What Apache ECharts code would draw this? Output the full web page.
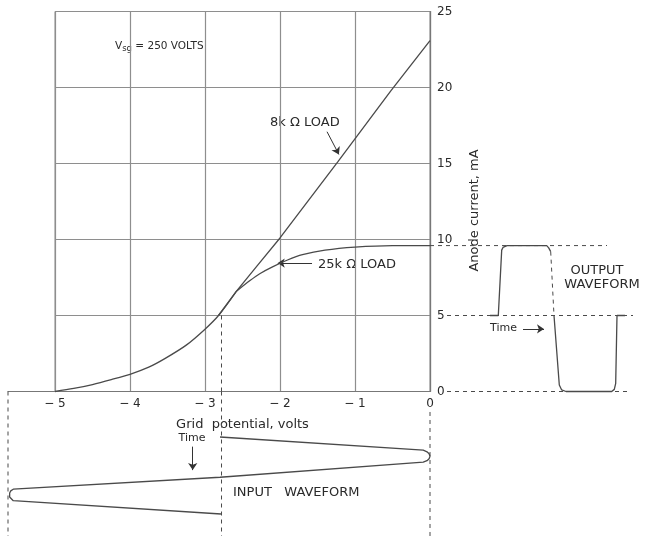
<!DOCTYPE html>
<html><head><meta charset="utf-8">
<script src="https://cdn.jsdelivr.net/npm/echarts@6/dist/echarts.min.js"></script>
<style>html,body{margin:0;padding:0;background:#fff}#c{width:645px;height:536px}</style>
</head><body><div id="c"></div>
<script>
// ---- axes / ticks ----
const voltTicks = [-5, -4, -3, -2, -1, 0];
const voltTickLabels = ['\u2212 5', '\u2212 4', '\u2212 3', '\u2212 2', '\u2212 1', '0'];
const currentTicks = [0, 5, 10, 15, 20, 25];
const currentTickLabels = ['0', '5', '10', '15', '20', '25'];

// ---- transfer characteristic (grid volts, anode mA) ----
const commonCurveV = [-5, -4.75, -4.5, -4.25, -4, -3.75, -3.53, -3.25, -3, -2.82, -2.58];
const commonCurveI = [0, 0.2, 0.46, 0.78, 1.13, 1.6, 2.18, 3.05, 4.1, 5.0, 6.6];
const load8kV = [-2.82, -2.58, -2.3, -2.0, -1.23, -0.52, 0];
const load8kI = [5.0, 6.6, 8.3, 10.1, 15.1, 19.8, 23.08];
const load25kV = [-2.58, -2.4, -2.27, -2.1, -1.9, -1.7, -1.4, -1, -0.5, 0];
const load25kI = [6.6, 7.3, 7.75, 8.2, 8.65, 9.0, 9.3, 9.5, 9.6, 9.6];

// operating point
const biasV = -2.78;
const biasI = 5;

// ---- input waveform (grid volts vs time, quarter-periods) ----
const inputWaveV = [-2.8, -0.09, -0.04, -0.012, 0, -0.012, -0.04, -0.09, -2.8, -5.557, -5.59, -5.605, -5.615, -5.605, -5.59, -5.557, -2.787];
const inputWaveT = [0, 0.68, 0.77, 0.87, 1.0, 1.13, 1.23, 1.31, 2.09, 2.71, 2.80, 2.91, 3.01, 3.12, 3.22, 3.31, 4.0];
const inputLeftV = -5.627;
const inputTimeMin = -2.364, inputTimeMax = 5.143;

// ---- output waveform (time units vs anode mA) ----
const outA_T = [6.0, 6.83, 7.17, 7.3, 7.5, 7.7, 11.67, 11.87, 12.07];
const outA_I = [5, 5, 9.3, 9.48, 9.57, 9.6, 9.6, 9.45, 9.2];
const outB_T = [12.07, 12.4];
const outB_I = [9.2, 5];
const outC_T = [12.4, 12.93, 13.17, 13.6, 18.17, 18.43, 18.57, 18.7, 19.5];
const outC_I = [5, 0.43, 0.1, 0, 0, 0.14, 0.54, 5, 5];
const outLevels = [9.6, 5, 0];
const outLevelStart = [0, 1.7, 1.7];
const outLevelEnd = [17.7, 20.3, 19.7];

const zip = (a, b) => a.map((v, i) => [v, b[i]]);

const LINE = '#4a4a4a';
const GRIDC = '#8e8e8e';
const TXT = '#2a2a2a';
const FONT = '"DejaVu Sans", sans-serif';

const chart = echarts.init(document.getElementById('c'), null, {renderer: 'canvas'});

function dashed(xi, data) {
  return {type: 'line', xAxisIndex: xi, yAxisIndex: xi, data: data, symbol: 'none', clip: false, silent: true,
    lineStyle: {color: LINE, width: 1, type: [4, 4]}};
}
function solid(xi, data, smooth) {
  return {type: 'line', xAxisIndex: xi, yAxisIndex: xi, data: data, symbol: 'none', clip: false, silent: true,
    smooth: smooth || false, lineStyle: {color: LINE, width: 1.3}};
}
function arrow(xi, from, to) {
  return {type: 'lines', coordinateSystem: 'cartesian2d', xAxisIndex: xi, yAxisIndex: xi, silent: true,
    symbol: ['none', 'arrow'], symbolSize: 7, lineStyle: {color: '#333', width: 1, opacity: 1, curveness: 0},
    data: [{coords: [from, to]}]};
}

const series = [
  solid(0, zip(commonCurveV, commonCurveI), 0.3),
  solid(0, zip(load8kV, load8kI), false),
  solid(0, zip(load25kV, load25kI), 0.3),
  dashed(0, [[biasV, biasI], [biasV, 0]]),
  arrow(0, [-1.373, 17.09], [-1.215, 15.6]),
  arrow(0, [-1.573, 8.45], [-2.03, 8.45]),
  // input waveform grid
  solid(1, zip(inputWaveV, inputWaveT), false),
  dashed(1, [[biasV, inputTimeMin], [biasV, inputTimeMax]]),
  dashed(1, [[0, -1.3], [0, inputTimeMax]]),
  dashed(1, [[inputLeftV, inputTimeMin], [inputLeftV, inputTimeMax]]),
  arrow(1, [-3.164, 0.5], [-3.164, 1.72]),
  // output waveform grid
  solid(2, zip(outA_T, outA_I), false),
  dashed(2, zip(outB_T, outB_I)),
  solid(2, zip(outC_T, outC_I), false),
  arrow(2, [9.3, 4.12], [11.4, 4.12])
];
outLevels.forEach((lv, i) => series.push(dashed(2, [[outLevelStart[i], lv], [outLevelEnd[i], lv]])));

const option = {
  animation: false,
  backgroundColor: '#fff',
  textStyle: {fontFamily: FONT},
  grid: [
    {left: 55, right: 215, top: 11.5, bottom: 144.5, show: true, borderColor: GRIDC, borderWidth: 1, outerBoundsMode: 'none', containLabel: false},
    {left: 8, right: 215, top: 391.5, bottom: 0, outerBoundsMode: 'none', containLabel: false},
    {left: 430, right: 5, top: 11.5, bottom: 144.5, outerBoundsMode: 'none', containLabel: false}
  ],
  xAxis: [
    {type: 'value', gridIndex: 0, min: -5, max: 0, interval: 1,
      axisLine: {show: true, lineStyle: {color: '#777', width: 1.2}}, axisTick: {show: false},
      splitLine: {show: true, lineStyle: {color: GRIDC, width: 1.2}},
      axisLabel: {show: true, margin: 6, color: TXT, fontSize: 12, fontFamily: FONT,
        formatter: v => { const k = voltTicks.indexOf(v); return k >= 0 ? voltTickLabels[k] : String(v); }},
      name: 'Grid  potential, volts', nameLocation: 'middle', nameGap: 27,
      nameTextStyle: {color: TXT, fontSize: 13, fontFamily: FONT}},
    {type: 'value', gridIndex: 1, min: inputLeftV, max: 0, position: 'top',
      axisLine: {show: true, onZero: false, lineStyle: {color: '#777', width: 1.2}}, axisTick: {show: false},
      axisLabel: {show: false}, splitLine: {show: false}},
    {type: 'value', gridIndex: 2, min: 0, max: 21, show: false}
  ],
  yAxis: [
    {type: 'value', gridIndex: 0, min: 0, max: 25, interval: 5, position: 'right',
      axisLine: {show: true, lineStyle: {color: '#777', width: 1.2}}, axisTick: {show: false},
      splitLine: {show: true, lineStyle: {color: GRIDC, width: 1.2}},
      axisLabel: {show: true, margin: 7, color: TXT, fontSize: 12, fontFamily: FONT,
        formatter: v => { const k = currentTicks.indexOf(v); return k >= 0 ? currentTickLabels[k] : String(v); }},
      name: 'Anode current, mA', nameLocation: 'middle', nameGap: 38, nameRotate: 90,
      nameTextStyle: {color: TXT, fontSize: 13, fontFamily: FONT, padding: [0, 0, 0, -18]}},
    {type: 'value', gridIndex: 1, min: inputTimeMin, max: inputTimeMax, inverse: true, show: false},
    {type: 'value', gridIndex: 2, min: 0, max: 25, show: false}
  ],
  series: series,
  graphic: [
    {type: 'text', x: 115, y: 46, silent: true, style: {
      text: '{n|V}{s|sg}{n| = 250 VOLTS}', textVerticalAlign: 'middle', fill: TXT,
      rich: {n: {fontSize: 10.5, fontFamily: FONT, fill: TXT, color: TXT},
             s: {fontSize: 8.5, fontFamily: FONT, fill: TXT, color: TXT, padding: [6, 0, 0, 0]}}}},
    {type: 'text', x: 270, y: 123, silent: true, style: {text: '8k \u03A9 LOAD', fontSize: 13, fontFamily: FONT, fill: TXT, textVerticalAlign: 'middle'}},
    {type: 'text', x: 318, y: 265, silent: true, style: {text: '25k \u03A9 LOAD', fontSize: 13, fontFamily: FONT, fill: TXT, textVerticalAlign: 'middle'}},
    {type: 'text', x: 192, y: 438, silent: true, style: {text: 'Time', fontSize: 11, fontFamily: FONT, fill: TXT, textAlign: 'center', textVerticalAlign: 'middle'}},
    {type: 'text', x: 233, y: 493, silent: true, style: {text: 'INPUT   WAVEFORM', fontSize: 13, fontFamily: FONT, fill: TXT, textVerticalAlign: 'middle'}},
    {type: 'text', x: 490, y: 328, silent: true, style: {text: 'Time', fontSize: 11, fontFamily: FONT, fill: TXT, textVerticalAlign: 'middle'}},
    {type: 'text', x: 597, y: 271, silent: true, style: {text: 'OUTPUT', fontSize: 13, fontFamily: FONT, fill: TXT, textAlign: 'center', textVerticalAlign: 'middle'}},
    {type: 'text', x: 602, y: 285, silent: true, style: {text: 'WAVEFORM', fontSize: 13, fontFamily: FONT, fill: TXT, textAlign: 'center', textVerticalAlign: 'middle'}}
  ]
};
chart.setOption(option);
</script>
</body></html>
